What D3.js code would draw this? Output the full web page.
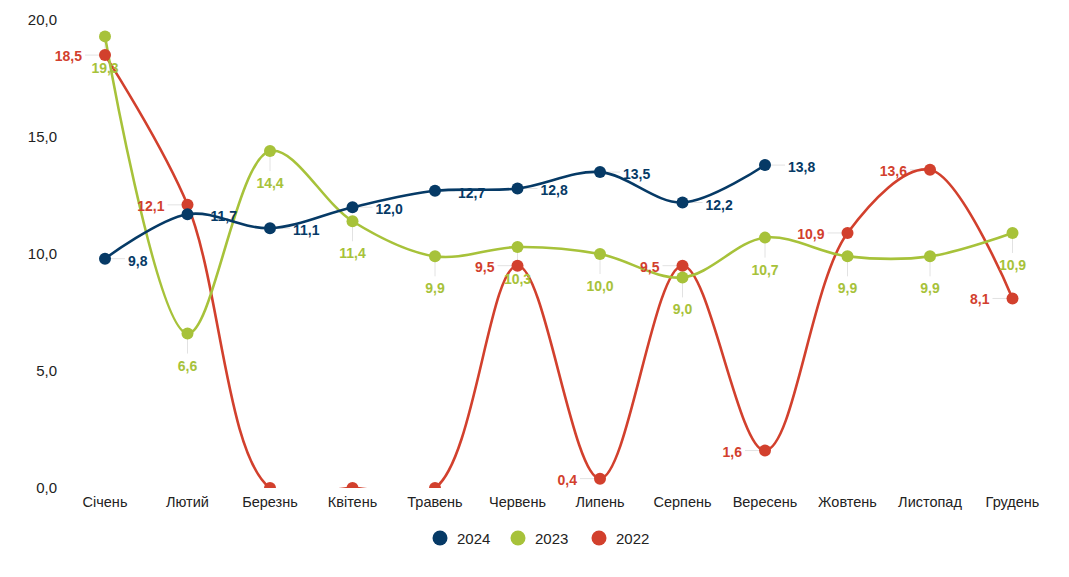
<!DOCTYPE html>
<html><head><meta charset="utf-8">
<script src="https://cdn.jsdelivr.net/npm/d3@7"></script>
<style>
body{margin:0;background:#fff;}
text{font-family:"Liberation Sans",Arial,sans-serif;}
</style></head>
<body><svg id="c" width="1069" height="577"></svg>
<script>
const months = ["Січень","Лютий","Березнь","Квітень","Травень","Червень","Липень","Серпень","Вересень","Жовтень","Листопад","Грудень"];
const yTicks = [0,5,10,15,20];
const v2024 = [9.8,11.7,11.1,12.0,12.7,12.8,13.5,12.2,13.8,null,null,null];
const v2023 = [19.3,6.6,14.4,11.4,9.9,10.3,10.0,9.0,10.7,9.9,9.9,10.9];
const v2022 = [18.5,12.1,0,0,0,9.5,0.4,9.5,1.6,10.9,13.6,8.1];
const seriesNames = ["2024","2023","2022"];
const colors = {"2024":"#063a66","2023":"#a7c23a","2022":"#d2402d"};

const series = [
  {name:"2024", values:v2024, pos:"right"},
  {name:"2023", values:v2023, pos:"below"},
  {name:"2022", values:v2022, pos:"left"}
];

const svg = d3.select("#c");
const x = d3.scaleBand().domain(months).range([63.75,1053.75]);
const xc = m => x(m) + x.bandwidth()/2;
const y = d3.scaleLinear().domain([0,20]).range([488,20]);
const fmt = v => d3.format(".1f")(v).replace(".",",");

// axes
const ya = svg.append("g").attr("transform","translate(57,0)")
  .call(d3.axisLeft(y).tickValues(yTicks).tickSize(0).tickPadding(0).tickFormat(fmt));
ya.select(".domain").remove();
ya.selectAll("text").attr("font-size",15).attr("fill","#222").style("font-family","Liberation Sans, Arial, sans-serif");

const xa = svg.append("g").attr("transform","translate(0,488)")
  .call(d3.axisBottom(x).tickSize(0).tickPadding(9));
xa.select(".domain").remove();
xa.selectAll("text").attr("font-size",14.5).attr("fill","#222").style("font-family","Liberation Sans, Arial, sans-serif");

svg.append("defs").append("clipPath").attr("id","plot")
  .append("rect").attr("x",0).attr("y",0).attr("width",1069).attr("height",488);

const line = d3.line()
  .defined(d => d.v !== null)
  .x(d => xc(d.m)).y(d => y(d.v))
  .curve(d3.curveCatmullRom.alpha(0.5));

const drawOrder = [series[2], series[1], series[0]];
const dat = s => s.values.map((v,i)=>({m:months[i], v}));

// leader lines (behind everything)
const leaders = svg.append("g");
drawOrder.forEach(s=>{
  dat(s).forEach(d=>{
    if(d.v===null || d.v===0) return;
    const px = xc(d.m), py = y(d.v);
    let x2=px, y2=py;
    if(s.pos==="right"){x2=px+20;}
    else if(s.pos==="left"){x2=px-20;}
    else {y2=py+20;}
    leaders.append("line").attr("x1",px).attr("y1",py).attr("x2",x2).attr("y2",y2)
      .attr("stroke","#e2e2e2").attr("stroke-width",1);
  });
});

const plot = svg.append("g").attr("clip-path","url(#plot)");
drawOrder.forEach(s=>{
  plot.append("path").datum(dat(s)).attr("d",line)
    .attr("fill","none").attr("stroke",colors[s.name]).attr("stroke-width",2.6);
});
drawOrder.forEach(s=>{
  plot.selectAll(null).data(dat(s).filter(d=>d.v!==null)).enter().append("circle")
    .attr("cx",d=>xc(d.m)).attr("cy",d=>y(d.v)).attr("r",6)
    .attr("fill",colors[s.name]);
});

// labels
const labels = svg.append("g");
drawOrder.forEach(s=>{
  dat(s).forEach(d=>{
    if(d.v===null || d.v===0) return;
    const px = xc(d.m), py = y(d.v);
    const t = labels.append("text").text(fmt(d.v))
      .attr("font-size",14).attr("font-weight","bold").attr("fill",colors[s.name])
      .attr("dominant-baseline","central");
    if(s.pos==="right"){t.attr("x",px+23).attr("y",py+2).attr("text-anchor","start");}
    else if(s.pos==="left"){t.attr("x",px-23).attr("y",py+1).attr("text-anchor","end");}
    else {t.attr("x",px).attr("y",py+32).attr("text-anchor","middle");}
  });
});

// legend
const legX = [440,518,599];
const leg = svg.append("g");
seriesNames.forEach((n,i)=>{
  leg.append("circle").attr("cx",legX[i]).attr("cy",538).attr("r",7.5).attr("fill",colors[n]);
  leg.append("text").attr("x",legX[i]+17).attr("y",538).attr("dominant-baseline","central")
    .attr("font-size",15).attr("fill","#222").text(n);
});
</script></body></html>
